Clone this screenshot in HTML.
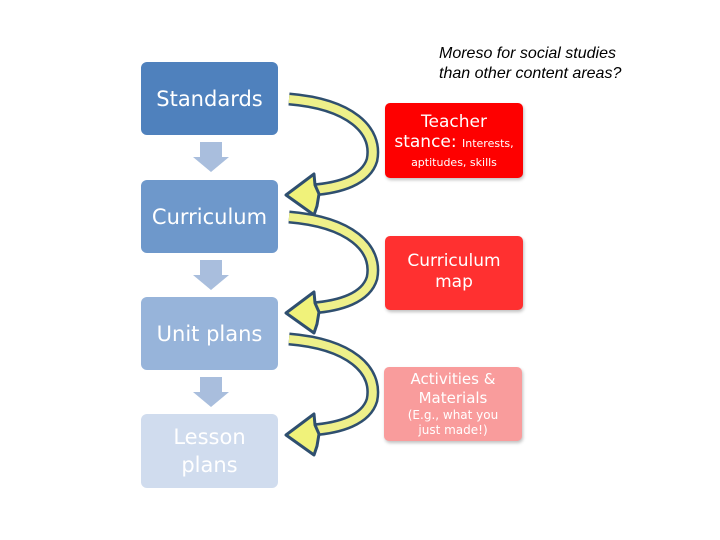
<!DOCTYPE html>
<html><head><style>
body{margin:0;width:720px;height:540px;background:#fff;position:relative;overflow:hidden;font-family:"DejaVu Sans","Liberation Sans",sans-serif}
.b{position:absolute;left:141px;width:137px;height:73px;border-radius:6px;color:#fff;display:flex;align-items:center;justify-content:center;text-align:center;font-size:21px;line-height:28px}
.r{position:absolute;width:138px;border-radius:5px;color:#fff;text-align:center;box-shadow:1px 2px 3px rgba(0,0,0,.25)}
.note{position:absolute;left:439px;top:44px;font-family:"Liberation Sans",sans-serif;font-style:italic;font-size:16px;line-height:20px;color:#000}
</style></head><body>
<div class="b" style="top:62px;background:#4f81bd">Standards</div>
<div class="b" style="top:180px;background:#6e98cb">Curriculum</div>
<div class="b" style="top:297px;background:#97b4da">Unit plans</div>
<div class="b" style="top:414px;height:74px;background:#d0dcee">Lesson<br>plans</div>
<svg width="720" height="540" style="position:absolute;left:0;top:0">
<g fill="#a9bedd">
<polygon points="200,142 222,142 222,157 229,157 211,172 193,157 200,157"/>
<polygon points="200,260 222,260 222,275 229,275 211,290 193,275 200,275"/>
<polygon points="200,377 222,377 222,392 229,392 211,407 193,392 200,392"/>
</g>
<defs><g id="a">
<path d="M289,99 C350,104 378,130 372,160 C366,180 340,188 312,190" fill="none" stroke="#2f4f6f" stroke-width="13" stroke-linecap="butt"/>
<path d="M289,99 C350,104 378,130 372,160 C366,180 340,188 312,190" fill="none" stroke="#eef08a" stroke-width="8"/>
<polygon points="286,195 314,174 315,185 319,194 317,206 314,215" fill="#f0f27a" stroke="#2f4f6f" stroke-width="3" stroke-linejoin="round"/>
</g></defs>
<use href="#a"/>
<use href="#a" y="118"/>
<use href="#a" y="240"/>
</svg>
<div class="r" style="left:385px;top:103px;height:75px;background:#fe0000">
<div style="font-size:17px;line-height:20px;margin-top:9px">Teacher</div>
<div style="font-size:17px;line-height:20px">stance: <span style="font-size:11px">Interests,</span></div>
<div style="font-size:11px;line-height:17px">aptitudes, skills</div></div>
<div class="r" style="left:385px;top:236px;height:74px;background:#ff3030;font-size:17px;line-height:21px"><div style="margin-top:15px">Curriculum<br>map</div></div>
<div class="r" style="left:384px;top:367px;height:74px;background:#f99c9c">
<div style="font-size:15px;line-height:19px;margin-top:3px">Activities &amp;<br>Materials</div>
<div style="font-size:12px;line-height:15px">(E.g., what you<br>just made!)</div></div>
<div class="note">Moreso for social studies<br>than other content areas?</div>
</body></html>
